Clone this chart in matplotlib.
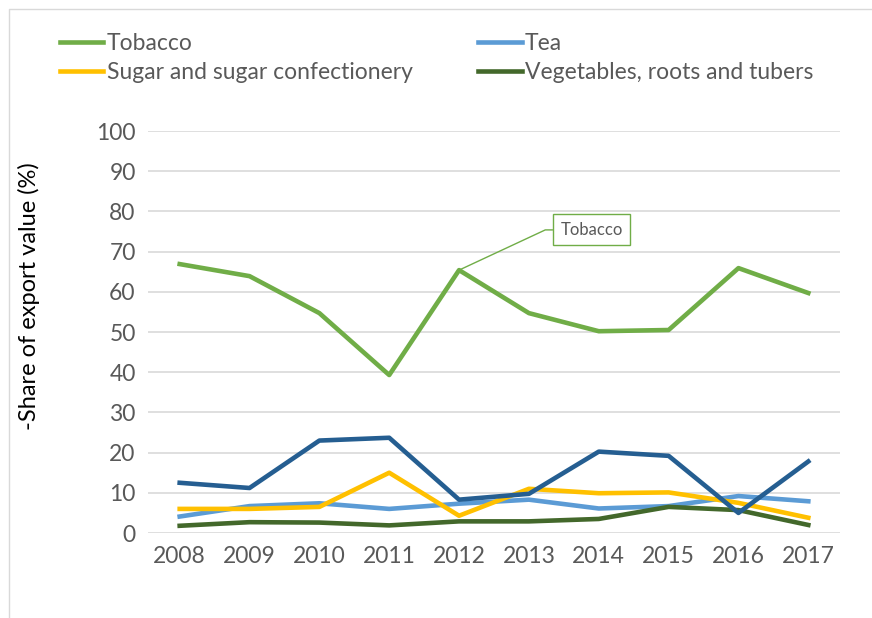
import matplotlib.pyplot as plt
from matplotlib.lines import Line2D

plt.rcParams['font.family'] = ['Lato', 'DejaVu Sans']

years = [2008, 2009, 2010, 2011, 2012, 2013, 2014, 2015, 2016, 2017]
tobacco = [66.9, 63.9, 54.7, 39.3, 65.4, 54.7, 50.2, 50.5, 65.9, 59.7]
tea = [4.1, 6.7, 7.4, 6.0, 7.3, 8.3, 6.1, 6.7, 9.2, 7.9]
sugar = [6.0, 6.0, 6.5, 15.0, 4.3, 11.0, 9.9, 10.1, 7.5, 3.8]
vegetables = [1.8, 2.7, 2.6, 1.9, 2.9, 2.9, 3.5, 6.5, 5.7, 2.0]
unlabelled = [12.5, 11.2, 23.0, 23.7, 8.3, 9.75, 20.25, 19.2, 5.0, 17.8]
yticks = [0, 10, 20, 30, 40, 50, 60, 70, 80, 90, 100]

grey = '#595959'
fig = plt.figure(figsize=(8.72, 6.18), dpi=100)
ax = fig.add_axes([0.170, 0.1375, 0.793, 0.6505])

lw = 3.3
ax.plot(years, tobacco, color='#70AD47', lw=lw, label='Tobacco')
ax.plot(years, tea, color='#5B9BD5', lw=lw, label='Tea')
ax.plot(years, sugar, color='#FFC000', lw=lw, label='Sugar and sugar confectionery')
ax.plot(years, vegetables, color='#43682B', lw=lw, label='Vegetables, roots and tubers')
ax.plot(years, unlabelled, color='#255E91', lw=lw)

ax.set_xlim(2007.55, 2017.45)
ax.set_ylim(0, 100)
ax.set_xticks(years)
ax.set_yticks(yticks)
ax.grid(axis='y', color='#D9D9D9', lw=1.2)
ax.set_axisbelow(True)
for s in ax.spines.values():
    s.set_visible(False)
ax.tick_params(length=0, labelsize=16.5, colors=grey, pad=9)
ax.set_ylabel('-Share of export value (%)', fontsize=17, color='black')
ax.yaxis.set_label_coords(-0.156, 0.59)

# callout label on the 2012 tobacco point
ax.annotate('Tobacco', xy=(years[4], tobacco[4]), xytext=(2013.9, 75.4),
            fontsize=12, color=grey, ha='center', va='center',
            bbox=dict(boxstyle='square,pad=0.45', fc='white', ec='#70AD47', lw=1),
            arrowprops=dict(arrowstyle='-', color='#70AD47', lw=1, shrinkA=0, shrinkB=0,
                            relpos=(0, 0.5),
                            connectionstyle='angle,angleA=0,angleB=25,rad=0'))

h, l = ax.get_legend_handles_labels()
order = [0, 2, 1, 3]
fig.legend([h[i] for i in order], [l[i] for i in order], ncol=2,
           loc='upper left', bbox_to_anchor=(0.045, 0.98), frameon=False,
           fontsize=16.5, labelcolor=grey, handlelength=1.9, handletextpad=0.15,
           columnspacing=2.85, labelspacing=0.35)

# chart frame (only top and left edges fall inside the crop)
fig.lines.append(Line2D([0.010, 0.010, 1.0], [0.0, 0.986, 0.986],
                        transform=fig.transFigure, color='#D9D9D9', lw=1))

fig.savefig('out.png', dpi=100)
